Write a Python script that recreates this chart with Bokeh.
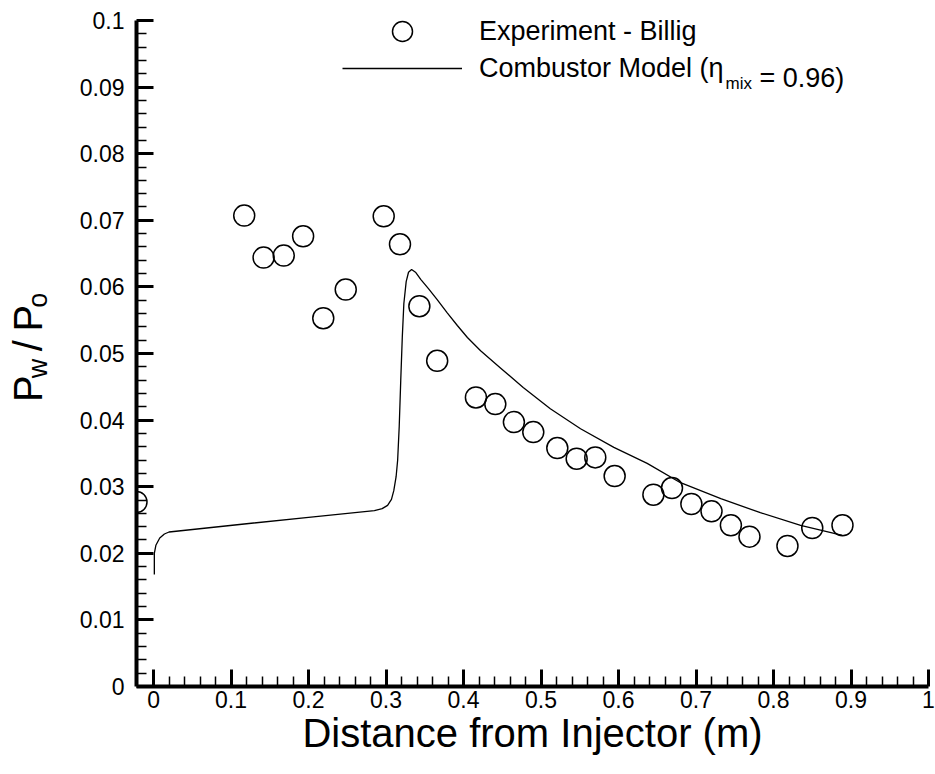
import math
from bokeh.plotting import figure
from bokeh.layouts import row
from bokeh.models import Range1d, FixedTicker, Label, Legend, LegendItem
from bokeh.core.properties import value
from bokeh.embed import file_html
from bokeh.resources import INLINE

# ---------------- data ----------------
exp_x = [-0.022, 0.117, 0.142, 0.168, 0.193, 0.219, 0.248, 0.297, 0.318, 0.343,
         0.366, 0.416, 0.441, 0.465, 0.490, 0.521, 0.546, 0.570, 0.595, 0.645,
         0.669, 0.694, 0.720, 0.745, 0.769, 0.818, 0.850, 0.889]
exp_y = [0.0277, 0.0707, 0.0644, 0.0647, 0.0676, 0.0553, 0.0596, 0.0706, 0.0664, 0.0571,
         0.0489, 0.0434, 0.0424, 0.0397, 0.0382, 0.0358, 0.0342, 0.0344, 0.0316, 0.0288,
         0.0298, 0.0274, 0.0263, 0.0242, 0.0225, 0.0211, 0.0238, 0.0242]

model_x = [0.001, 0.001, 0.003, 0.008, 0.014, 0.020, 0.117, 0.200, 0.285, 0.295,
           0.302, 0.307, 0.310, 0.313, 0.315, 0.317, 0.319, 0.321, 0.323, 0.326,
           0.329, 0.333, 0.338, 0.345, 0.355, 0.366, 0.379, 0.392, 0.405, 0.422,
           0.448, 0.477, 0.512, 0.551, 0.594, 0.637, 0.680, 0.732, 0.783, 0.835,
           0.889]
model_y = [0.0168, 0.0200, 0.0212, 0.0223, 0.0229, 0.0232, 0.0244, 0.0254, 0.0264, 0.0267,
           0.0272, 0.0281, 0.0294, 0.0315, 0.0340, 0.0390, 0.0460, 0.0525, 0.0575, 0.0608,
           0.0622, 0.0626, 0.0622, 0.0611, 0.0597, 0.0581, 0.0561, 0.0542, 0.0524, 0.0504,
           0.0478, 0.0449, 0.0417, 0.0387, 0.0359, 0.0335, 0.0306, 0.0282, 0.0261, 0.0242,
           0.0227]

x_ticks = [0.0, 0.1, 0.2, 0.3, 0.4, 0.5, 0.6, 0.7, 0.8, 0.9, 1.0]
x_tick_labels = ["0", "0.1", "0.2", "0.3", "0.4", "0.5", "0.6", "0.7", "0.8", "0.9", "1"]
y_ticks = [0.0, 0.01, 0.02, 0.03, 0.04, 0.05, 0.06, 0.07, 0.08, 0.09, 0.1]
y_tick_labels = ["0", "0.01", "0.02", "0.03", "0.04", "0.05", "0.06", "0.07", "0.08", "0.09", "0.1"]

series_names = ["Experiment - Billig", "Combustor Model (\u03b7"]
subscript_text = "mix"
legend_tail = "= 0.96)"
x_title = "Distance from Injector (m)"
y_title_main = ["P", "/", "P"]
y_title_sub = ["w", "o"]

FONT = "Liberation Sans"
SIDE_W = 60
X_MIN, X_MAX = -0.022, 1.0
Y_MIN, Y_MAX = 0.0, 0.1
Y_HEADROOM = 0.003   # space above the axis end, so the legend is not clipped

# ---------------- main figure ----------------
p = figure(width=935 - SIDE_W, height=774, output_backend="svg", toolbar_location=None,
           x_range=Range1d(X_MIN, X_MAX), y_range=Range1d(Y_MIN, Y_MAX + Y_HEADROOM),
           min_border_left=136 - SIDE_W, min_border_right=7, min_border_top=0,
           min_border_bottom=88)
p.outline_line_color = None
p.grid.visible = False
p.background_fill_color = "white"
p.border_fill_color = "white"

x_minor = [round(0.02 * i, 2) for i in range(1, 50) if i % 5]
y_minor = [round(0.002 * i, 3) for i in range(1, 50) if i % 5]
p.xaxis.ticker = FixedTicker(ticks=x_ticks, minor_ticks=x_minor)
p.yaxis.ticker = FixedTicker(ticks=y_ticks, minor_ticks=y_minor)
p.xaxis.major_label_overrides = dict(zip(x_ticks, x_tick_labels))
p.yaxis.major_label_overrides = dict(zip(y_ticks, y_tick_labels))
p.yaxis.bounds = (Y_MIN, Y_MAX)

for ax in (p.xaxis[0], p.yaxis[0]):
    ax.axis_line_width = 4
    ax.axis_line_color = "black"
    ax.major_tick_in = 17
    ax.major_tick_out = 0
    ax.minor_tick_in = 10
    ax.minor_tick_out = 0
    ax.major_tick_line_width = 3
    ax.minor_tick_line_width = 1.5
    ax.major_tick_line_color = "black"
    ax.minor_tick_line_color = "black"
    ax.major_label_text_font = FONT
    ax.major_label_text_font_size = "23px"
    ax.major_label_text_color = "black"

p.xaxis.major_label_standoff = 4
p.yaxis.major_label_standoff = 12
p.xaxis.axis_label = x_title
p.xaxis.axis_label_text_font = FONT
p.xaxis.axis_label_text_font_size = "40px"
p.xaxis.axis_label_text_font_style = "normal"
p.xaxis.axis_label_text_color = "black"
p.xaxis.axis_label_standoff = 0

# ---------------- data glyphs ----------------
r_exp = p.scatter(exp_x, exp_y, marker="circle", size=21, fill_color=None,
                  line_color="black", line_width=1.5)
r_mod = p.line(model_x, model_y, line_color="black", line_width=1.3)

# ---------------- legend (one row per Legend) ----------------
FRAME_H = 686
LEG_X = 342 - 136
GLYPH_W = 120
STANDOFF = 17
LEG_FONT = "27px"
common = dict(orientation="vertical", glyph_width=GLYPH_W, label_standoff=STANDOFF,
              spacing=0, padding=0, margin=0, border_line_alpha=0,
              background_fill_alpha=0, label_text_font=FONT,
              label_text_font_size=LEG_FONT, label_text_color="black")
leg1 = Legend(items=[LegendItem(label=series_names[0], renderers=[r_exp])],
              location=(LEG_X, FRAME_H - 56), glyph_height=50, label_height=50, **common)
leg2 = Legend(items=[LegendItem(label=series_names[1], renderers=[r_mod])],
              location=(LEG_X, FRAME_H - 86), glyph_height=36, label_height=36, **common)
p.add_layout(leg1)
p.add_layout(leg2)

x0 = p.x_range.start
y0 = p.y_range.start
text_left = LEG_X + GLYPH_W + STANDOFF
eta_end = text_left + 246
row2_base = 77   # canvas y of the 2nd legend line's baseline
p.add_layout(Label(x=x0, y=y0, x_offset=eta_end, y_offset=FRAME_H - row2_base - 6,
                   text=subscript_text, text_font=FONT, text_font_size="17px",
                   text_color="black", text_baseline="alphabetic"))
p.add_layout(Label(x=x0, y=y0, x_offset=eta_end + 34, y_offset=FRAME_H - row2_base,
                   text=legend_tail, text_font=FONT, text_font_size=LEG_FONT,
                   text_color="black", text_baseline="alphabetic"))

# ---------------- side panel with rotated y title: P_w / P_o ----------------
side = figure(width=SIDE_W, height=774, output_backend="svg", toolbar_location=None,
              x_range=Range1d(0, SIDE_W), y_range=Range1d(774, 0),
              x_axis_type=None, y_axis_type=None, min_border=0)
side.outline_line_color = None
side.background_fill_color = "white"
side.border_fill_color = "white"

base = 27
start = 453
big_adv = 26.7   # "P" advance at 40px
sub_adv = 19.5   # "w" advance at 27px
space = 11.1
main_pos = [start, start - big_adv - sub_adv - space,
            start - big_adv - sub_adv - 3 * space]
sub_pos = [start - big_adv, main_pos[2] - big_adv]
side.text(x=[base] * 3, y=main_pos, text=y_title_main, angle=math.pi / 2,
          text_font=value(FONT), text_font_size="40px", text_color="black",
          text_align="left", text_baseline="alphabetic")
side.text(x=[base + 10] * 2, y=sub_pos, text=y_title_sub, angle=math.pi / 2,
          text_font=value(FONT), text_font_size="27px", text_color="black",
          text_align="left", text_baseline="alphabetic")

layout = row(side, p, spacing=0)
open("out.html", "w").write(file_html(layout, INLINE))
